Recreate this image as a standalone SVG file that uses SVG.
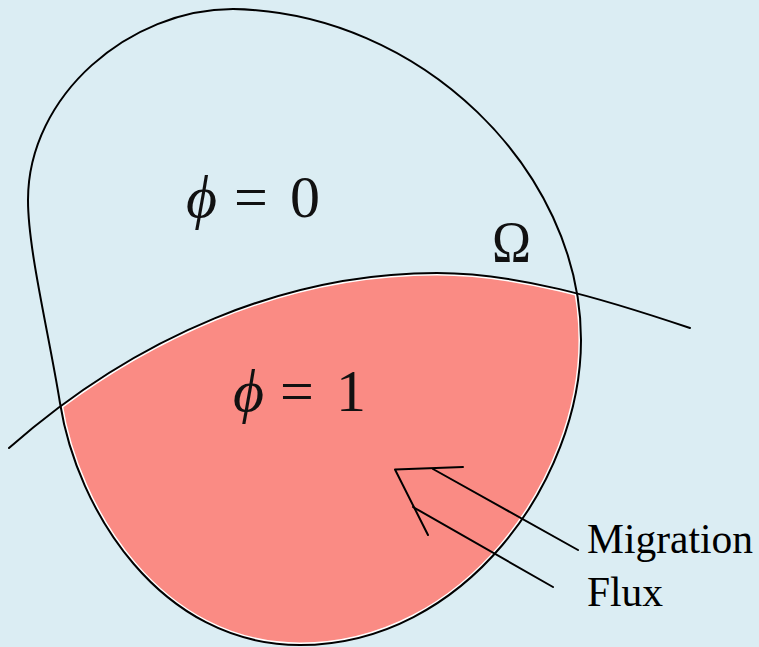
<svg xmlns="http://www.w3.org/2000/svg" width="759" height="647" viewBox="0 0 759 647">
<style>
.ln{fill:none;stroke:#000;stroke-width:2;stroke-linecap:round;stroke-linejoin:round}
.wh{stroke:#ffffff;stroke-width:5}
.math{font-family:"Liberation Serif","DejaVu Serif",serif;fill:#111}
.lbl{font-family:"Liberation Serif","Times New Roman",serif;font-size:41.5px;fill:#000}
</style>
<defs>
<path id="outlineP" d="M28,200 C28,95 130,9 233,9 C420,12 581,170 581,340 C581,480 465,645 300,645 C160,645 76.8,509.7 60,403 C49,334 28,250 28,200 Z"/>
<path id="ifaceP" d="M9,448 C136.5,335.5 287,273 437,273 C517,273 599.6,297.6 690,328"/>
<clipPath id="inOutline"><use href="#outlineP"/></clipPath>
<clipPath id="belowIface"><path d="M0,456 L9,448 C136.5,335.5 287,273 437,273 C517,273 599.6,297.6 690,328 L759,351 L759,647 L0,647 Z"/></clipPath>
</defs>
<rect x="0" y="0" width="759" height="647" fill="#dbedf3"/>
<g id="region-phi1" clip-path="url(#inOutline)">
<g clip-path="url(#belowIface)">
<use href="#outlineP" fill="#fa8b84" class="wh"/>
<use href="#ifaceP" fill="none" class="wh"/>
</g>
</g>
<g id="domain-omega">
<use href="#outlineP" class="ln"/>
</g>
<g id="interface">
<use href="#ifaceP" class="ln"/>
</g>
<g id="connectors">
<path class="ln" d="M463,467 L395,469.5 L428,535"/>
<path class="ln" d="M433,469 L578,550"/>
<path class="ln" d="M413,507 L553,587"/>
</g>
<g id="label-phi0">
<text class="math" y="217" font-size="60"><tspan x="186" font-style="italic">ϕ</tspan><tspan x="234">=</tspan><tspan x="290">0</tspan></text>
</g>
<g id="label-phi1">
<text class="math" y="411" font-size="60"><tspan x="233" font-style="italic">ϕ</tspan><tspan x="280">=</tspan><tspan x="336">1</tspan></text>
</g>
<g id="label-omega">
<text class="math" x="492" y="262" font-size="60" textLength="39" lengthAdjust="spacingAndGlyphs">Ω</text>
</g>
<g id="label-flux">
<text class="lbl" x="587" y="553">Migration</text>
<text class="lbl" x="587" y="606">Flux</text>
</g>
</svg>
